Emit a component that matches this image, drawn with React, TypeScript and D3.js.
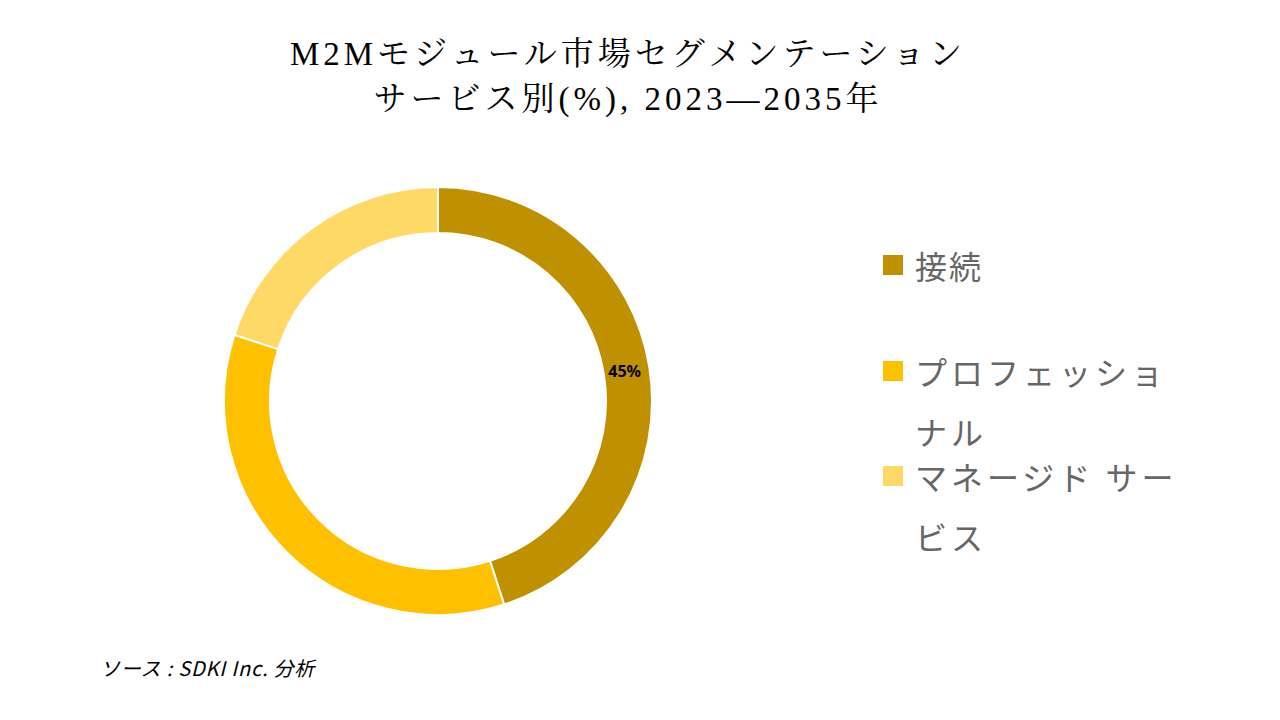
import React from "react";
import * as d3 from "d3";

const categories = ["接続", "プロフェッショナル", "マネージド サービス"];
const values = [45, 35, 20];
const colors = ["#BF9000", "#FFC000", "#FFD966"];
const legendLines = [["接続"], ["プロフェッショ", "ナル"], ["マネージド サー", "ビス"]];
const titleLines = ["M2Mモジュール市場セグメンテーション", "サービス別(%), 2023—2035年"];
const sourceText = "ソース : SDKI Inc. 分析";

export default function App() {
  const W = 1280, H = 720;
  const cx = 438, cy = 401;
  const outerR = 214, innerR = 168;
  const pie = d3.pie<number>().value((d) => d).sort(null);
  const arcs = pie(values);
  const arc = d3.arc<d3.PieArcDatum<number>>().innerRadius(innerR).outerRadius(outerR);
  const labelArc = d3.arc<d3.PieArcDatum<number>>().innerRadius((innerR + outerR) / 2).outerRadius((innerR + outerR) / 2);
  const legendY = [265, 371, 476];
  const lineGap = 60;
  return (
    <svg width={W} height={H} style={{ display: "block", position: "absolute", left: 0, top: 0 }}>
      <rect width={W} height={H} fill="#fff" />
      {titleLines.map((t, i) => (
        <text key={i} x={628} y={65 + i * 45} textAnchor="middle" fontSize={33} letterSpacing={4}
          fontFamily="'Liberation Serif', 'Noto Serif CJK JP', 'Noto Sans CJK JP', serif" fill="#000">{t}</text>
      ))}
      <g transform={`translate(${cx},${cy})`}>
        {arcs.map((a, i) => (
          <path key={i} d={arc(a) || ""} fill={colors[i]} stroke="#fff" strokeWidth={2} />
        ))}
        {arcs.map((a, i) => {
          if (i !== 0) return null;
          const [x, y] = labelArc.centroid(a);
          return (
            <text key={"l" + i} x={x - 2} y={y} textAnchor="middle" dominantBaseline="central"
              fontSize={16} fontWeight="bold" fontFamily="'Noto Sans', 'DejaVu Sans', sans-serif" fill="#000">
              {values[i]}%
            </text>
          );
        })}
      </g>
      {categories.map((c, i) => (
        <g key={c}>
          <rect x={883} y={legendY[i] - 10} width={20} height={20} fill={colors[i]} />
          {legendLines[i].map((ln, j) => (
            <text key={j} x={915} y={legendY[i] + j * lineGap} dominantBaseline="central" fontSize={32}
              letterSpacing={i === 0 ? 2 : 4}
              fontFamily="'Noto Sans CJK JP', sans-serif" fill="#666666">{ln}</text>
          ))}
        </g>
      ))}
      <text x={100} y={676} fontSize={20} fontStyle="italic" letterSpacing={0.8}
        fontFamily="'Noto Sans CJK JP', 'Open Sans', sans-serif" fill="#000">{sourceText}</text>
    </svg>
  );
}
